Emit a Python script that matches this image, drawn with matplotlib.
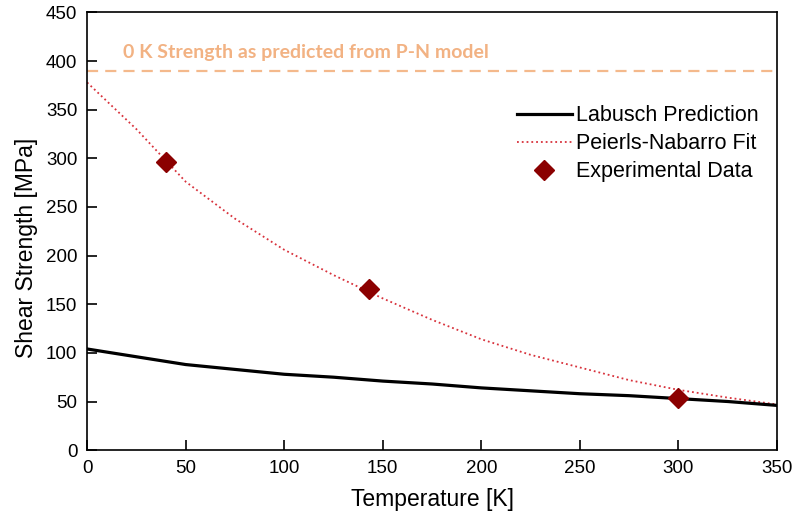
import numpy as np
import matplotlib
matplotlib.use('Agg')
import matplotlib.pyplot as plt

plt.rcParams.update({'font.family': ['Liberation Sans', 'DejaVu Sans'], 'font.size': 12})

# Labusch model prediction [MPa]
labusch_T = [0, 25, 50, 75, 100, 125, 150, 175, 200, 225, 250, 275, 300, 325, 350]
labusch_tau = [104, 96, 88, 83, 78, 75, 71, 68, 64, 61, 58, 56, 53, 50, 46]

# Peierls-Nabarro fit [MPa]
pn_T = [0, 25, 50, 75, 100, 125, 150, 175, 200, 225, 250, 275, 300, 325, 350]
pn_tau = [378, 330, 276, 238, 206, 180, 156, 134, 114, 98, 85, 72, 62, 54, 47]

# measured shear strength
exp_T = [40, 143, 300]
exp_tau = [296, 166, 54]

pn_0K = 390

fig = plt.figure(figsize=(7.92, 5.18), dpi=100)
ax = fig.add_axes([0.110, 0.131, 0.871, 0.845])

ax.axhline(pn_0K, color='#f4b98c', lw=1.6, ls=(0, (5, 3.2)), zorder=1)
ax.text(18, 409, '0 K Strength as predicted from P-N model', color='#f2b283',
        fontsize=14, fontweight='bold', family=['Lato', 'DejaVu Sans'], va='center')

ax.plot(labusch_T, labusch_tau, color='black', lw=2.3, label='Labusch Prediction', zorder=3)
ax.plot(pn_T, pn_tau, color='#d8323c', lw=1.3, ls=':', label='Peierls-Nabarro Fit', zorder=2)
ax.plot(exp_T, exp_tau, ls='none', marker='D', ms=10.5, color='#8b0000',
        label='Experimental Data', zorder=4)

ax.set_xlim(0, 350)
ax.set_ylim(0, 450)
ax.set_xticks(np.arange(0, 351, 50))
ax.set_yticks(np.arange(0, 451, 50))
ax.tick_params(direction='in', length=7, width=1.2, labelsize=13.5, pad=7)
for s in ax.spines.values():
    s.set_linewidth(1.2)

ax.set_xlabel('Temperature [K]', fontsize=16.5, labelpad=8)
ax.set_ylabel('Shear Strength [MPa]', fontsize=16.5, labelpad=6, y=0.463)

ax.legend(loc='upper right', bbox_to_anchor=(0.986, 0.808), frameon=False, fontsize=15.5,
          handlelength=2.55, handletextpad=0.2, labelspacing=0.33, borderaxespad=0)

fig.savefig('out.png', dpi=100)
